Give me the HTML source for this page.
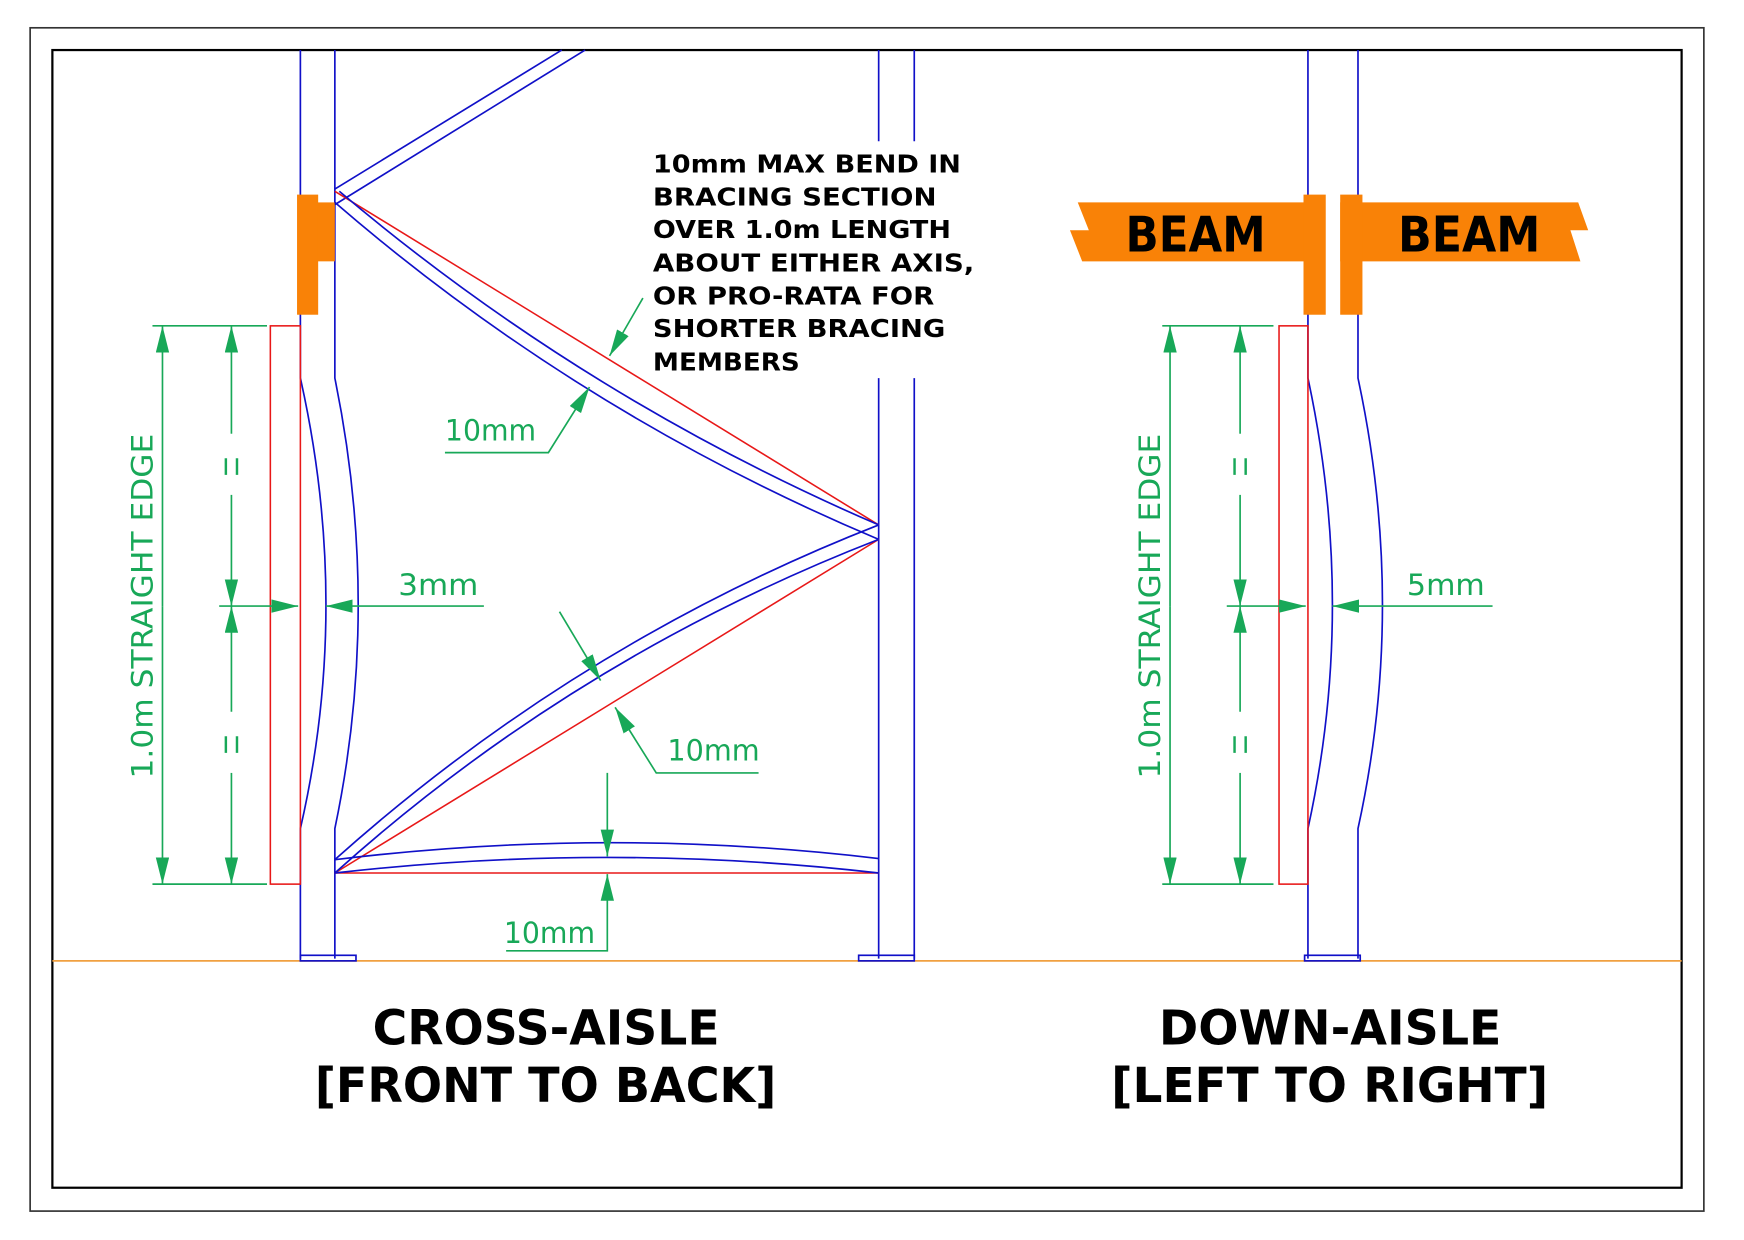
<!DOCTYPE html>
<html><head><meta charset="utf-8"><style>
html,body{margin:0;padding:0;background:#fff}
svg{display:block}
.b{stroke:#1010c8;stroke-width:1.5;fill:none}
.r{stroke:#e81818;stroke-width:1.4;fill:none}
.g{stroke:#18a858;stroke-width:1.5;fill:none}
.eq{stroke:#18a858;stroke-width:2.2;fill:none}
.gt{fill:#18a858;font-family:"DejaVu Sans","Liberation Sans",sans-serif;font-size:26px}
.bk{fill:#000;font-family:"DejaVu Sans","Liberation Sans",sans-serif;font-weight:bold}
</style></head><body>
<svg width="1744" height="1240" viewBox="0 0 1568 1115" xmlns="http://www.w3.org/2000/svg">
<defs>
<marker id="a" markerUnits="userSpaceOnUse" markerWidth="26" markerHeight="14" refX="24" refY="6" orient="auto">
<path d="M0,0 L24,6 L0,12 z" fill="#18a858"/>
</marker>
</defs>
<rect x="0" y="0" width="1568" height="1115" fill="#fff"/>
<rect x="27" y="25" width="1505" height="1064" fill="none" stroke="#333" stroke-width="1.5"/>
<rect x="47" y="45" width="1465" height="1023" fill="none" stroke="#000" stroke-width="2"/>
<line x1="47" y1="864" x2="1512" y2="864" stroke="#f0a040" stroke-width="1.5"/>

<!-- LEFT FRAME -->
<path class="b" d="M270 45 L270 340 Q316 545 270 745 L270 862"/>
<path class="b" d="M301 45 L301 340 Q343 545 301 745 L301 862"/>
<rect class="b" x="270" y="859" width="50" height="5"/>
<line class="b" x1="790" y1="45" x2="790" y2="127"/>
<line class="b" x1="822" y1="45" x2="822" y2="127"/>
<line class="b" x1="790" y1="340" x2="790" y2="862"/>
<line class="b" x1="822" y1="340" x2="822" y2="862"/>
<rect class="b" x="772" y="859" width="50" height="5"/>
<rect x="267" y="175" width="19" height="108" fill="#f98207"/>
<rect x="285" y="182" width="16" height="53" fill="#f98207"/>

<line class="b" x1="301" y1="170" x2="505" y2="45"/>
<line class="b" x1="301" y1="184" x2="526" y2="45"/>
<line class="r" x1="301" y1="172" x2="790" y2="472"/>
<path class="b" d="M305 172 Q525 358 790 472"/>
<path class="b" d="M301 182 Q521 372 790 485"/>
<line class="r" x1="790" y1="485" x2="301" y2="785"/>
<path class="b" d="M790 472 Q519 578 301 773"/>
<path class="b" d="M790 485 Q517 591 301 785"/>
<line class="r" x1="301" y1="785" x2="790" y2="785"/>
<path class="b" d="M301 773 Q546 743 790 772"/>
<path class="b" d="M301 785 Q546 757 790 785"/>

<rect class="r" x="243" y="293" width="27" height="502"/>
<line class="g" x1="137" y1="293" x2="240" y2="293"/>
<line class="g" x1="137" y1="795" x2="240" y2="795"/>
<line class="g" x1="146" y1="545" x2="146" y2="293" marker-end="url(#a)"/>
<line class="g" x1="146" y1="545" x2="146" y2="795" marker-end="url(#a)"/>
<line class="g" x1="208" y1="390" x2="208" y2="293" marker-end="url(#a)"/>
<line class="g" x1="208" y1="445" x2="208" y2="545" marker-end="url(#a)"/>
<line class="g" x1="208" y1="640" x2="208" y2="545" marker-end="url(#a)"/>
<line class="g" x1="208" y1="695" x2="208" y2="795" marker-end="url(#a)"/>
<path class="eq" d="M203 412 V427 M213 412 V427 M203 662 V677 M213 662 V677"/>
<text class="gt" transform="translate(137,545) rotate(-90)" text-anchor="middle" font-size="28" textLength="310" lengthAdjust="spacingAndGlyphs">1.0m STRAIGHT EDGE</text>
<line class="g" x1="197" y1="545" x2="268" y2="545" marker-end="url(#a)"/>
<line class="g" x1="435" y1="545" x2="293" y2="545" marker-end="url(#a)"/>
<text class="gt" x="358" y="535" textLength="72" lengthAdjust="spacingAndGlyphs">3mm</text>

<polyline class="g" points="400,407 493,407 530,348" marker-end="url(#a)"/>
<text class="gt" x="400" y="396" textLength="82" lengthAdjust="spacingAndGlyphs">10mm</text>
<line class="g" x1="578" y1="268" x2="548" y2="320" marker-end="url(#a)"/>
<line class="g" x1="503" y1="550" x2="540" y2="612" marker-end="url(#a)"/>
<polyline class="g" points="682,695 590,695 553,636" marker-end="url(#a)"/>
<text class="gt" x="600" y="684" textLength="83" lengthAdjust="spacingAndGlyphs">10mm</text>
<line class="g" x1="546" y1="695" x2="546" y2="770" marker-end="url(#a)"/>
<polyline class="g" points="455,855 546,855 546,786" marker-end="url(#a)"/>
<text class="gt" x="453" y="848" textLength="82" lengthAdjust="spacingAndGlyphs">10mm</text>

<g class="bk" font-size="22">
<text x="587" y="155" textLength="277" lengthAdjust="spacingAndGlyphs">10mm MAX BEND IN</text>
<text x="587" y="185" textLength="255" lengthAdjust="spacingAndGlyphs">BRACING SECTION</text>
<text x="587" y="214" textLength="268" lengthAdjust="spacingAndGlyphs">OVER 1.0m LENGTH</text>
<text x="587" y="244" textLength="289" lengthAdjust="spacingAndGlyphs">ABOUT EITHER AXIS,</text>
<text x="587" y="274" textLength="253" lengthAdjust="spacingAndGlyphs">OR PRO-RATA FOR</text>
<text x="587" y="303" textLength="263" lengthAdjust="spacingAndGlyphs">SHORTER BRACING</text>
<text x="587" y="333" textLength="132" lengthAdjust="spacingAndGlyphs">MEMBERS</text>
</g>

<!-- RIGHT FRAME -->
<path class="b" d="M1176 45 L1176 340 Q1220 545 1176 745 L1176 862"/>
<path class="b" d="M1221 45 L1221 340 Q1265 545 1221 745 L1221 862"/>
<rect class="b" x="1173" y="859" width="50" height="5"/>
<polygon fill="#f98207" points="969,182 1172,182 1172,235 973,235 962,207 979,207"/>
<polygon fill="#f98207" points="1205,182 1419,182 1428,207 1412,207 1421,235 1205,235"/>
<rect x="1172" y="175" width="20" height="108" fill="#f98207"/>
<rect x="1205" y="175" width="20" height="108" fill="#f98207"/>
<text class="bk" x="1012" y="226" font-size="44" textLength="126" lengthAdjust="spacingAndGlyphs">BEAM</text>
<text class="bk" x="1257" y="226" font-size="44" textLength="128" lengthAdjust="spacingAndGlyphs">BEAM</text>

<rect class="r" x="1150" y="293" width="26" height="502"/>
<line class="g" x1="1045" y1="293" x2="1145" y2="293"/>
<line class="g" x1="1045" y1="795" x2="1145" y2="795"/>
<line class="g" x1="1052" y1="545" x2="1052" y2="293" marker-end="url(#a)"/>
<line class="g" x1="1052" y1="545" x2="1052" y2="795" marker-end="url(#a)"/>
<line class="g" x1="1115" y1="390" x2="1115" y2="293" marker-end="url(#a)"/>
<line class="g" x1="1115" y1="445" x2="1115" y2="545" marker-end="url(#a)"/>
<line class="g" x1="1115" y1="640" x2="1115" y2="545" marker-end="url(#a)"/>
<line class="g" x1="1115" y1="695" x2="1115" y2="795" marker-end="url(#a)"/>
<path class="eq" d="M1110 412 V427 M1120 412 V427 M1110 662 V677 M1120 662 V677"/>
<text class="gt" transform="translate(1043,545) rotate(-90)" text-anchor="middle" font-size="28" textLength="310" lengthAdjust="spacingAndGlyphs">1.0m STRAIGHT EDGE</text>
<line class="g" x1="1103" y1="545" x2="1174" y2="545" marker-end="url(#a)"/>
<line class="g" x1="1342" y1="545" x2="1198" y2="545" marker-end="url(#a)"/>
<text class="gt" x="1265" y="535" textLength="70" lengthAdjust="spacingAndGlyphs">5mm</text>

<!-- TITLES -->
<g class="bk" font-size="43">
<text x="335" y="939" textLength="312" lengthAdjust="spacingAndGlyphs">CROSS-AISLE</text>
<text x="283" y="991" textLength="415" lengthAdjust="spacingAndGlyphs">[FRONT TO BACK]</text>
<text x="1042" y="939" textLength="308" lengthAdjust="spacingAndGlyphs">DOWN-AISLE</text>
<text x="999" y="991" textLength="393" lengthAdjust="spacingAndGlyphs">[LEFT TO RIGHT]</text>
</g>
</svg>
</body></html>
